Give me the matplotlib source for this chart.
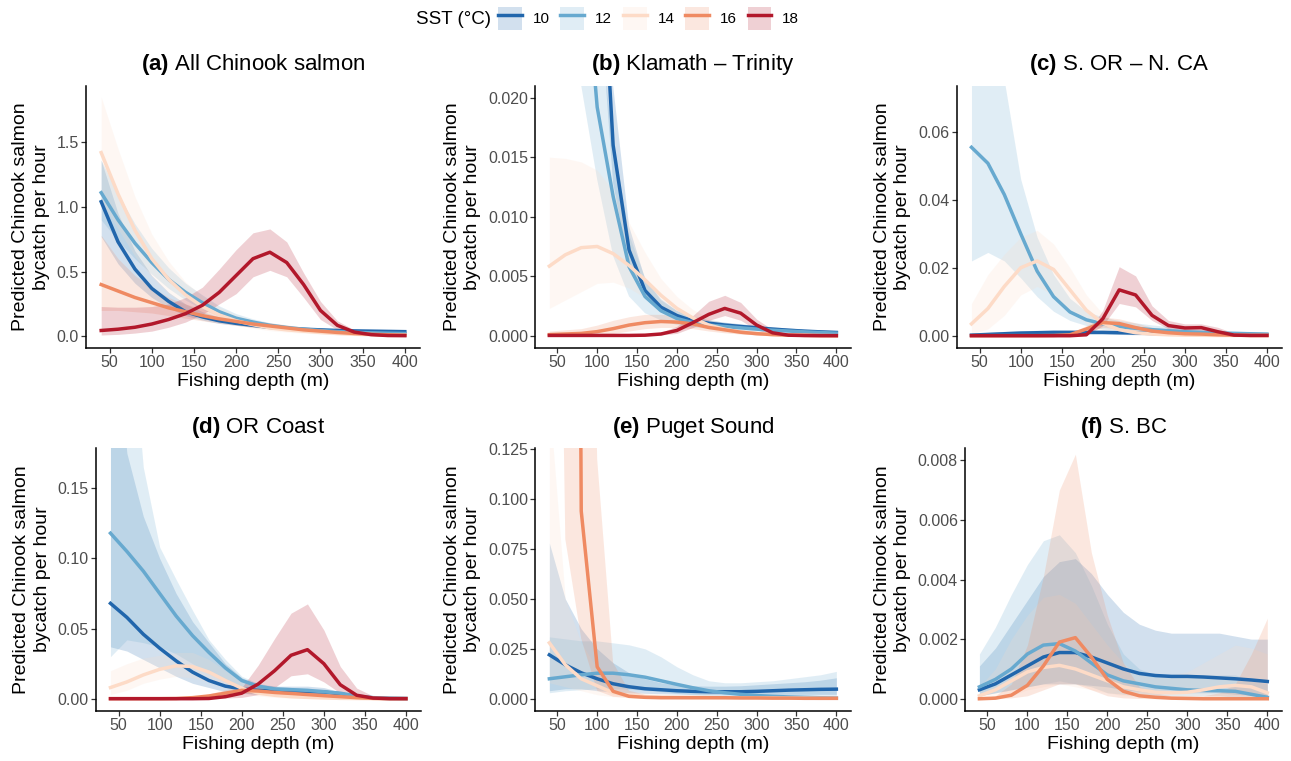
import matplotlib
matplotlib.use("Agg")
import matplotlib.pyplot as plt
from matplotlib.patches import Patch
from matplotlib.lines import Line2D
from matplotlib.ticker import FormatStrFormatter

plt.rcParams['font.family'] = ['Liberation Sans', 'DejaVu Sans']
plt.rcParams['mathtext.fontset'] = 'custom'
plt.rcParams['mathtext.bf'] = 'Liberation Sans:bold'
plt.rcParams['mathtext.rm'] = 'Liberation Sans'

# ---------------- data ----------------
depth = [40, 60, 80, 100, 120, 140, 160, 180, 200, 220, 240, 260, 280, 300, 320, 340, 360, 380, 400]
sst_levels = [10, 12, 14, 16, 18]
sst_colors = ['#2166AC', '#67A9CF', '#FDDBC7', '#EF8A62', '#B2182B']

titles = ['(a)|All Chinook salmon', '(b)|Klamath \u2013 Trinity', '(c)|S. OR \u2013 N. CA',
          '(d)|OR Coast', '(e)|Puget Sound', '(f)|S. BC']

# (a) All Chinook salmon
a_fit = {
    10: [1.04, 0.73, 0.52, 0.37, 0.27, 0.19, 0.15, 0.12, 0.10, 0.085, 0.07, 0.06, 0.055, 0.05, 0.045, 0.042, 0.04, 0.038, 0.036],
    12: [1.11, 0.90, 0.72, 0.57, 0.44, 0.34, 0.26, 0.19, 0.14, 0.11, 0.085, 0.068, 0.055, 0.045, 0.037, 0.031, 0.027, 0.024, 0.022],
    14: [1.42, 1.10, 0.82, 0.60, 0.44, 0.32, 0.23, 0.165, 0.12, 0.09, 0.065, 0.05, 0.04, 0.03, 0.022, 0.016, 0.012, 0.01, 0.008],
    16: [0.40, 0.35, 0.30, 0.26, 0.22, 0.19, 0.16, 0.135, 0.115, 0.095, 0.08, 0.065, 0.05, 0.04, 0.03, 0.022, 0.016, 0.012, 0.009],
    18: [0.045, 0.055, 0.07, 0.095, 0.13, 0.175, 0.24, 0.34, 0.47, 0.60, 0.65, 0.57, 0.40, 0.20, 0.085, 0.033, 0.013, 0.006, 0.005],
}
a_lo = {
    10: [0.77, 0.56, 0.41, 0.30, 0.22, 0.16, 0.125, 0.10, 0.085, 0.07, 0.058, 0.05, 0.045, 0.04, 0.036, 0.033, 0.031, 0.029, 0.027],
    12: [0.90, 0.74, 0.60, 0.48, 0.37, 0.28, 0.21, 0.155, 0.115, 0.088, 0.068, 0.054, 0.043, 0.035, 0.028, 0.023, 0.02, 0.017, 0.015],
    14: [1.05, 0.83, 0.62, 0.46, 0.33, 0.24, 0.17, 0.12, 0.085, 0.062, 0.044, 0.032, 0.024, 0.017, 0.012, 0.008, 0.006, 0.004, 0.003],
    16: [0.20, 0.20, 0.19, 0.18, 0.16, 0.14, 0.12, 0.10, 0.085, 0.07, 0.058, 0.046, 0.035, 0.027, 0.02, 0.014, 0.01, 0.007, 0.005],
    18: [0.01, 0.015, 0.025, 0.04, 0.07, 0.11, 0.17, 0.25, 0.33, 0.46, 0.51, 0.46, 0.30, 0.13, 0.05, 0.018, 0.006, 0.002, 0.001],
}
a_hi = {
    10: [1.36, 0.95, 0.66, 0.47, 0.34, 0.25, 0.19, 0.15, 0.12, 0.10, 0.085, 0.073, 0.067, 0.062, 0.057, 0.053, 0.05, 0.048, 0.046],
    12: [1.36, 1.10, 0.87, 0.68, 0.53, 0.41, 0.32, 0.235, 0.175, 0.135, 0.105, 0.085, 0.07, 0.058, 0.048, 0.041, 0.036, 0.032, 0.03],
    14: [1.85, 1.45, 1.08, 0.79, 0.58, 0.42, 0.31, 0.225, 0.165, 0.125, 0.095, 0.075, 0.062, 0.05, 0.04, 0.032, 0.027, 0.024, 0.022],
    16: [0.78, 0.60, 0.47, 0.38, 0.30, 0.25, 0.21, 0.175, 0.15, 0.125, 0.105, 0.088, 0.07, 0.057, 0.045, 0.034, 0.026, 0.02, 0.016],
    18: [0.23, 0.225, 0.225, 0.23, 0.25, 0.30, 0.38, 0.52, 0.67, 0.80, 0.83, 0.73, 0.49, 0.27, 0.12, 0.05, 0.022, 0.015, 0.013],
}

# (b) Klamath - Trinity
b_fit = {
    10: [0.6, 0.25, 0.10, 0.04, 0.016, 0.0072, 0.0038, 0.0024, 0.0017, 0.00125, 0.00106, 0.0009, 0.00078, 0.00067, 0.00056, 0.00047, 0.00039, 0.00033, 0.00028],
    12: [0.14, 0.07, 0.035, 0.0192, 0.0117, 0.0058, 0.0033, 0.0021, 0.00145, 0.0011, 0.0009, 0.00078, 0.00067, 0.00056, 0.00047, 0.0004, 0.00033, 0.00027, 0.00022],
    14: [0.00585, 0.0068, 0.0074, 0.0075, 0.0069, 0.0059, 0.0047, 0.0034, 0.0023, 0.0015, 0.0009, 0.00055, 0.0003, 0.00018, 0.0001, 0.00006, 0.00004, 0.00002, 0.00001],
    16: [0.0001, 0.00015, 0.0002, 0.00035, 0.0006, 0.0009, 0.0011, 0.0012, 0.00115, 0.001, 0.0007, 0.0005, 0.0003, 0.00018, 0.0001, 0.00006, 0.00004, 0.00002, 0.00001],
    18: [0.00003, 0.00003, 0.00003, 0.00003, 0.00003, 0.00003, 0.00005, 0.00015, 0.00045, 0.0011, 0.0018, 0.0023, 0.0019, 0.0009, 0.00025, 0.00005, 0.00002, 0.00001, 0.00001],
}
b_lo = {
    10: [0.45, 0.19, 0.078, 0.031, 0.0128, 0.0058, 0.0031, 0.002, 0.0014, 0.001, 0.00087, 0.00074, 0.00063, 0.00053, 0.00044, 0.00036, 0.0003, 0.00025, 0.00021],
    12: [0.09, 0.042, 0.021, 0.0131, 0.0067, 0.0033, 0.0019, 0.0013, 0.0009, 0.0007, 0.0006, 0.0005, 0.00043, 0.00036, 0.0003, 0.00025, 0.0002, 0.00017, 0.00014],
    14: [0.0023, 0.003, 0.0037, 0.0044, 0.0045, 0.004, 0.0032, 0.0022, 0.0015, 0.0009, 0.0005, 0.0003, 0.00015, 0.00008, 0.00004, 0.00002, 0.00001, 0.0, 0.0],
    16: [0.0, 0.00003, 0.00005, 0.0001, 0.0002, 0.0004, 0.0006, 0.0007, 0.0007, 0.0006, 0.0004, 0.00025, 0.00015, 0.00008, 0.00004, 0.00002, 0.00001, 0.0, 0.0],
    18: [0.0, 0.0, 0.0, 0.0, 0.0, 0.0, 0.00002, 0.00007, 0.0002, 0.0007, 0.0013, 0.0017, 0.0013, 0.0005, 0.0001, 0.00002, 0.0, 0.0, 0.0],
}
b_hi = {
    10: [0.8, 0.33, 0.13, 0.052, 0.021, 0.0092, 0.0048, 0.003, 0.0021, 0.0016, 0.0013, 0.0011, 0.00097, 0.00085, 0.00072, 0.00061, 0.00052, 0.00045, 0.0004],
    12: [0.2, 0.1, 0.05, 0.027, 0.0165, 0.0085, 0.0049, 0.0031, 0.0021, 0.0016, 0.0013, 0.0011, 0.00095, 0.0008, 0.00068, 0.00058, 0.0005, 0.00042, 0.00036],
    14: [0.015, 0.0149, 0.0146, 0.0139, 0.0122, 0.0095, 0.007, 0.0048, 0.0033, 0.0022, 0.0015, 0.001, 0.0006, 0.0004, 0.00025, 0.00015, 0.0001, 0.00006, 0.00004],
    16: [0.0004, 0.0005, 0.0006, 0.0009, 0.0013, 0.0016, 0.0018, 0.0018, 0.0017, 0.0015, 0.0011, 0.0008, 0.0005, 0.0003, 0.0002, 0.00012, 0.00008, 0.00005, 0.00003],
    18: [0.0001, 0.0001, 0.0001, 0.0001, 0.0001, 0.0001, 0.00012, 0.0003, 0.0008, 0.0017, 0.0029, 0.0034, 0.0028, 0.0014, 0.0005, 0.00015, 0.00005, 0.00003, 0.00003],
}

# (c) S. OR - N. CA
c_fit = {
    10: [0.0002, 0.0004, 0.0006, 0.0008, 0.0009, 0.001, 0.001, 0.001, 0.001, 0.0009, 0.0008, 0.0007, 0.0006, 0.0005, 0.0004, 0.0004, 0.0003, 0.0003, 0.0003],
    12: [0.0554, 0.0507, 0.0415, 0.030, 0.019, 0.0115, 0.007, 0.0047, 0.0035, 0.0027, 0.0022, 0.0018, 0.0015, 0.0012, 0.001, 0.0008, 0.0007, 0.0006, 0.0005],
    14: [0.0035, 0.008, 0.0145, 0.020, 0.022, 0.0195, 0.0135, 0.0075, 0.0037, 0.0018, 0.0009, 0.0005, 0.0003, 0.0002, 0.00015, 0.0001, 0.0001, 0.0001, 0.0001],
    16: [0.00005, 0.00005, 0.00005, 0.00005, 0.00005, 0.0001, 0.0003, 0.002, 0.0039, 0.0036, 0.0024, 0.0014, 0.0009, 0.0006, 0.0005, 0.0003, 0.0002, 0.0001, 0.0001],
    18: [0.00002, 0.00002, 0.00002, 0.00002, 0.00002, 0.00002, 0.00002, 0.0003, 0.005, 0.0135, 0.012, 0.006, 0.003, 0.0023, 0.0024, 0.0012, 0.0002, 0.0001, 0.0001],
}
c_lo = {
    10: [0.0, 0.0001, 0.0002, 0.0003, 0.0004, 0.0005, 0.0005, 0.0005, 0.0005, 0.0004, 0.0003, 0.0003, 0.0002, 0.0002, 0.0001, 0.0001, 0.0001, 0.0001, 0.0001],
    12: [0.022, 0.0245, 0.022, 0.017, 0.0115, 0.0072, 0.0045, 0.003, 0.002, 0.0015, 0.0012, 0.001, 0.0008, 0.0006, 0.0005, 0.0004, 0.0003, 0.0003, 0.0002],
    14: [0.0005, 0.002, 0.006, 0.012, 0.0145, 0.012, 0.0075, 0.0035, 0.0015, 0.0006, 0.0003, 0.0001, 0.0001, 0.0, 0.0, 0.0, 0.0, 0.0, 0.0],
    16: [0.0, 0.0, 0.0, 0.0, 0.0, 0.00003, 0.0001, 0.001, 0.0025, 0.002, 0.0015, 0.0008, 0.0005, 0.0003, 0.0002, 0.0001, 0.00005, 0.00003, 0.00003],
    18: [0.0, 0.0, 0.0, 0.0, 0.0, 0.0, 0.0, 0.0001, 0.003, 0.0095, 0.0085, 0.0045, 0.002, 0.0015, 0.0015, 0.0005, 0.0, 0.0, 0.0],
}
c_hi = {
    10: [0.0008, 0.001, 0.0013, 0.0015, 0.0016, 0.0017, 0.0017, 0.0017, 0.0017, 0.0016, 0.0015, 0.0014, 0.0013, 0.0012, 0.0011, 0.001, 0.0009, 0.0009, 0.0009],
    12: [0.15, 0.11, 0.075, 0.046, 0.029, 0.018, 0.011, 0.0072, 0.0055, 0.0045, 0.0038, 0.0032, 0.0027, 0.0022, 0.0019, 0.0016, 0.0014, 0.0012, 0.001],
    14: [0.0095, 0.018, 0.024, 0.029, 0.031, 0.027, 0.020, 0.012, 0.0065, 0.0035, 0.002, 0.001, 0.0007, 0.0005, 0.0004, 0.0003, 0.0003, 0.0003, 0.0003],
    16: [0.0002, 0.0002, 0.0002, 0.0002, 0.0002, 0.0003, 0.0008, 0.003, 0.0055, 0.005, 0.0038, 0.0025, 0.0018, 0.0013, 0.001, 0.0007, 0.0005, 0.0004, 0.0004],
    18: [0.0001, 0.0001, 0.0001, 0.0001, 0.0001, 0.0001, 0.0001, 0.0006, 0.0075, 0.0203, 0.0176, 0.0088, 0.0045, 0.0035, 0.0035, 0.0025, 0.0008, 0.0005, 0.0005],
}

# (d) OR Coast
d_fit = {
    10: [0.068, 0.058, 0.046, 0.036, 0.027, 0.019, 0.013, 0.009, 0.007, 0.006, 0.0055, 0.0052, 0.005, 0.0048, 0.0035, 0.0015, 0.0005, 0.0002, 0.0001],
    12: [0.118, 0.105, 0.091, 0.075, 0.059, 0.045, 0.033, 0.022, 0.013, 0.009, 0.007, 0.0065, 0.006, 0.005, 0.004, 0.002, 0.0008, 0.0004, 0.0002],
    14: [0.008, 0.012, 0.017, 0.021, 0.0235, 0.023, 0.019, 0.013, 0.0075, 0.004, 0.0025, 0.0015, 0.001, 0.0006, 0.0003, 0.0002, 0.0001, 0.0001, 0.0001],
    16: [0.0001, 0.0001, 0.0001, 0.0001, 0.0002, 0.0008, 0.002, 0.004, 0.006, 0.0055, 0.0045, 0.0038, 0.003, 0.0022, 0.0015, 0.0008, 0.0003, 0.0001, 0.0001],
    18: [0.00005, 0.00005, 0.00005, 0.00005, 0.00005, 0.00005, 0.0002, 0.0015, 0.004, 0.0105, 0.020, 0.031, 0.035, 0.025, 0.010, 0.0025, 0.0005, 0.0001, 0.0001],
}
d_lo = {
    10: [0.037, 0.034, 0.028, 0.022, 0.016, 0.011, 0.008, 0.005, 0.004, 0.003, 0.003, 0.003, 0.003, 0.0028, 0.002, 0.0008, 0.0002, 0.0001, 0.0],
    12: [0.03, 0.042, 0.04, 0.037, 0.032, 0.025, 0.018, 0.012, 0.008, 0.006, 0.005, 0.005, 0.0045, 0.004, 0.003, 0.0015, 0.0005, 0.0002, 0.0001],
    14: [0.003, 0.006, 0.011, 0.014, 0.016, 0.015, 0.012, 0.008, 0.004, 0.002, 0.001, 0.0005, 0.0003, 0.0002, 0.0001, 0.0, 0.0, 0.0, 0.0],
    16: [0.0, 0.0, 0.0, 0.0, 0.0001, 0.0004, 0.0012, 0.0025, 0.004, 0.0037, 0.003, 0.0025, 0.002, 0.0014, 0.0009, 0.0004, 0.0001, 0.0, 0.0],
    18: [0.0, 0.0, 0.0, 0.0, 0.0, 0.0, 0.0001, 0.0005, 0.001, 0.003, 0.008, 0.0164, 0.0178, 0.012, 0.004, 0.001, 0.0002, 0.0, 0.0],
}
d_hi = {
    10: [0.30, 0.175, 0.13, 0.10, 0.075, 0.055, 0.04, 0.025, 0.015, 0.01, 0.009, 0.009, 0.009, 0.008, 0.005, 0.003, 0.001, 0.0005, 0.0003],
    12: [0.45, 0.30, 0.165, 0.108, 0.085, 0.063, 0.042, 0.028, 0.016, 0.011, 0.009, 0.008, 0.0075, 0.007, 0.005, 0.003, 0.0012, 0.0006, 0.0003],
    14: [0.02, 0.025, 0.029, 0.031, 0.033, 0.033, 0.028, 0.02, 0.012, 0.007, 0.004, 0.003, 0.002, 0.0015, 0.001, 0.0007, 0.0005, 0.0004, 0.0003],
    16: [0.0003, 0.0003, 0.0003, 0.0004, 0.0006, 0.0015, 0.0035, 0.0065, 0.0085, 0.008, 0.0067, 0.0058, 0.0047, 0.0035, 0.0025, 0.0014, 0.0006, 0.0003, 0.0002],
    18: [0.0002, 0.0002, 0.0002, 0.0002, 0.0002, 0.0002, 0.0006, 0.003, 0.008, 0.024, 0.043, 0.061, 0.0676, 0.049, 0.023, 0.0076, 0.002, 0.0005, 0.0005],
}

# (e) Puget Sound (no 18 degC)
e_fit = {
    10: [0.022, 0.017, 0.013, 0.01, 0.0075, 0.006, 0.005, 0.0045, 0.004, 0.0037, 0.0035, 0.0035, 0.0035, 0.0037, 0.004, 0.0043, 0.0045, 0.0047, 0.0048],
    12: [0.01, 0.011, 0.012, 0.0128, 0.0128, 0.012, 0.0108, 0.009, 0.0072, 0.0055, 0.004, 0.003, 0.0022, 0.0016, 0.0012, 0.0009, 0.0007, 0.0005, 0.0004],
    14: [0.028, 0.017, 0.01, 0.0065, 0.003, 0.0015, 0.001, 0.0008, 0.0007, 0.0006, 0.0006, 0.0005, 0.0005, 0.0004, 0.0004, 0.0003, 0.0003, 0.0002, 0.0002],
    16: [5.0, 1.5, 0.094, 0.016, 0.0037, 0.0012, 0.0007, 0.0005, 0.0005, 0.0005, 0.0005, 0.0005, 0.0004, 0.0004, 0.0003, 0.0003, 0.0002, 0.0002, 0.0002],
}
e_lo = {
    10: [0.004, 0.005, 0.005, 0.004, 0.0035, 0.003, 0.0027, 0.0025, 0.0023, 0.0022, 0.0021, 0.002, 0.002, 0.002, 0.0021, 0.0022, 0.0022, 0.0022, 0.0022],
    12: [0.003, 0.004, 0.0045, 0.005, 0.005, 0.0048, 0.0042, 0.0035, 0.0027, 0.002, 0.0014, 0.001, 0.0007, 0.0005, 0.0003, 0.0002, 0.0001, 0.0001, 0.0],
    14: [0.008, 0.006, 0.004, 0.002, 0.001, 0.0005, 0.0003, 0.0002, 0.0002, 0.0002, 0.0001, 0.0001, 0.0001, 0.0001, 0.0001, 0.0, 0.0, 0.0, 0.0],
    16: [0.6, 0.08, 0.03, 0.004, 0.001, 0.0004, 0.0002, 0.0002, 0.0002, 0.0002, 0.0002, 0.0002, 0.0001, 0.0001, 0.0001, 0.0001, 0.0001, 0.0, 0.0],
}
e_hi = {
    10: [0.078, 0.05, 0.035, 0.025, 0.018, 0.013, 0.01, 0.008, 0.007, 0.0065, 0.0063, 0.0063, 0.0065, 0.007, 0.0075, 0.008, 0.0085, 0.0093, 0.0105],
    12: [0.031, 0.030, 0.029, 0.029, 0.028, 0.027, 0.025, 0.021, 0.016, 0.012, 0.009, 0.008, 0.008, 0.0085, 0.009, 0.01, 0.011, 0.012, 0.0137],
    14: [0.15, 0.05, 0.028, 0.015, 0.007, 0.004, 0.003, 0.0025, 0.0022, 0.002, 0.0018, 0.0017, 0.0016, 0.0015, 0.0014, 0.0013, 0.0012, 0.0011, 0.001],
    16: [20.0, 8.0, 0.5, 0.12, 0.018, 0.004, 0.002, 0.0015, 0.0015, 0.0015, 0.0014, 0.0013, 0.0012, 0.0011, 0.001, 0.0009, 0.0008, 0.0007, 0.0006],
}

# (f) S. BC (no 18 degC)
f_fit = {
    10: [0.0003, 0.0005, 0.0008, 0.0011, 0.0014, 0.00155, 0.00155, 0.0014, 0.0012, 0.001, 0.00085, 0.00078, 0.00075, 0.00075, 0.00073, 0.0007, 0.00067, 0.00063, 0.00058],
    12: [0.0004, 0.00065, 0.001, 0.0015, 0.0018, 0.00185, 0.0016, 0.0012, 0.0008, 0.0006, 0.0005, 0.0004, 0.00035, 0.0003, 0.00028, 0.00027, 0.00025, 0.00015, 0.00005],
    14: [0.0001, 0.0003, 0.0006, 0.0009, 0.00105, 0.00112, 0.001, 0.0008, 0.0006, 0.0004, 0.0003, 0.00022, 0.0002, 0.00022, 0.0003, 0.0004, 0.00045, 0.0004, 0.0002],
    16: [0.0, 0.00002, 0.00012, 0.00045, 0.0011, 0.0019, 0.00205, 0.0014, 0.00065, 0.00025, 0.0001, 0.00005, 0.00002, 0.00001, 0.0, 0.0, 0.0, 0.0, 0.0],
}
f_lo = {
    10: [0.0001, 0.0002, 0.0003, 0.0004, 0.0005, 0.0005, 0.0005, 0.00045, 0.0004, 0.0003, 0.00025, 0.0002, 0.0002, 0.0002, 0.0002, 0.0002, 0.00015, 0.00012, 0.0001],
    12: [0.0001, 0.0002, 0.0003, 0.0004, 0.0005, 0.0006, 0.0005, 0.0004, 0.0002, 0.00015, 0.0001, 0.0001, 0.0001, 0.0001, 0.0001, 0.0001, 0.00005, 0.00003, 0.0],
    14: [0.0, 0.00005, 0.0001, 0.0003, 0.0004, 0.0005, 0.0004, 0.0003, 0.0002, 0.0001, 0.0001, 0.0001, 0.0001, 0.0001, 0.0001, 0.0001, 0.0001, 0.00005, 0.0],
    16: [0.0, 0.0, 0.00003, 0.0001, 0.0003, 0.0005, 0.0005, 0.0003, 0.0001, 0.00003, 0.00001, 0.0, 0.0, 0.0, 0.0, 0.0, 0.0, 0.0, 0.0],
}
f_hi = {
    10: [0.0011, 0.0017, 0.0025, 0.0033, 0.0041, 0.0046, 0.0047, 0.0042, 0.0035, 0.0029, 0.0025, 0.0023, 0.0022, 0.0022, 0.0022, 0.0022, 0.0021, 0.002, 0.002],
    12: [0.0015, 0.0024, 0.0035, 0.0045, 0.0053, 0.0055, 0.0049, 0.0038, 0.0025, 0.0015, 0.001, 0.0008, 0.0008, 0.0008, 0.0008, 0.0008, 0.0008, 0.0006, 0.0005],
    14: [0.0004, 0.001, 0.002, 0.0028, 0.0034, 0.0035, 0.0032, 0.0025, 0.0018, 0.0012, 0.0008, 0.0007, 0.0008, 0.0009, 0.0012, 0.0015, 0.0018, 0.0017, 0.0015],
    16: [0.00002, 0.0001, 0.0005, 0.0018, 0.0041, 0.0070, 0.0082, 0.0049, 0.0028, 0.0012, 0.0004, 0.0002, 0.0001, 0.0001, 0.0001, 0.0002, 0.0005, 0.0015, 0.0027],
}

y_ticks = [
    [0.0, 0.5, 1.0, 1.5],
    [0.0, 0.005, 0.010, 0.015, 0.020],
    [0.0, 0.02, 0.04, 0.06],
    [0.0, 0.05, 0.10, 0.15],
    [0.0, 0.025, 0.050, 0.075, 0.100, 0.125],
    [0.0, 0.002, 0.004, 0.006, 0.008],
]
y_fmt = ['%.1f', '%.3f', '%.2f', '%.2f', '%.3f', '%.3f']
y_lims = [(-0.088, 1.937), (-0.001, 0.021), (-0.0035, 0.0735),
          (-0.0085, 0.1785), (-0.006, 0.1255), (-0.0004, 0.0084)]
x_ticks = [50, 100, 150, 200, 250, 300, 350, 400]

panels = [(a_fit, a_lo, a_hi), (b_fit, b_lo, b_hi), (c_fit, c_lo, c_hi),
          (d_fit, d_lo, d_hi), (e_fit, e_lo, e_hi), (f_fit, f_lo, f_hi)]

# ---------------- layout (pixel boxes: left, right, top, bottom) ----------------
W, H = 1291, 761
boxes = [(86, 420, 85.7, 347.7), (535, 850.7, 85.7, 347.7), (956.7, 1281.7, 85.7, 347.7),
         (95.7, 420.7, 448.3, 710.7), (535, 850.7, 448.3, 710.7), (965, 1281.7, 448.3, 710.7)]

fig = plt.figure(figsize=(W / 100, H / 100), dpi=100)
fig.patch.set_facecolor('white')

TICK_COL = '#4D4D4D'
for i, (fit, lo, hi) in enumerate(panels):
    l, r, t, b = boxes[i]
    ax = fig.add_axes([l / W, 1 - b / H, (r - l) / W, (b - t) / H])
    for sst, col in zip(sst_levels, sst_colors):
        if sst in fit:
            ax.fill_between(depth, lo[sst], hi[sst], color=col, alpha=0.2, linewidth=0)
    for sst, col in zip(sst_levels, sst_colors):
        if sst in fit:
            ax.plot(depth, fit[sst], color=col, linewidth=2.5, solid_joinstyle='round')
    ax.set_xlim(22, 418)
    ax.set_ylim(*y_lims[i])
    ax.set_xticks(x_ticks)
    ax.set_yticks(y_ticks[i])
    ax.yaxis.set_major_formatter(FormatStrFormatter(y_fmt[i]))
    for s in ['top', 'right']:
        ax.spines[s].set_visible(False)
    for s in ['left', 'bottom']:
        ax.spines[s].set_linewidth(1.1)
        ax.spines[s].set_color('black')
    ax.tick_params(axis='both', direction='out', length=3.3, width=0.9, color='#333333',
                   labelsize=11.5, labelcolor=TICK_COL, pad=1.8)
    ax.set_xlabel('Fishing depth (m)', fontsize=14, labelpad=2)
    ax.set_ylabel('Predicted Chinook salmon\nbycatch per hour', fontsize=14, labelpad=5,
                  linespacing=1.25)
    tag, name = titles[i].split('|')
    ax.set_title(r'$\mathbf{' + tag + '}$ ' + name, fontsize=16, pad=11)

# ---------------- legend ----------------
fig.text(416 / W, 1 - 19 / H, 'SST (\u00b0C)', fontsize=13.5, ha='left', va='center')
handles = []
for col in sst_colors:
    handles.append((Patch(facecolor=col, alpha=0.2, edgecolor='none'),
                    Line2D([], [], color=col, linewidth=2.5)))
fig.legend(handles, [str(s) for s in sst_levels], ncol=5, loc='center left',
           bbox_to_anchor=(498 / W, 1 - 18.5 / H), frameon=False, fontsize=11,
           handlelength=1.57, handleheight=1.9, handletextpad=0.7, columnspacing=0.7,
           borderpad=0, borderaxespad=0)

fig.savefig('out.png', dpi=100, facecolor='white')
